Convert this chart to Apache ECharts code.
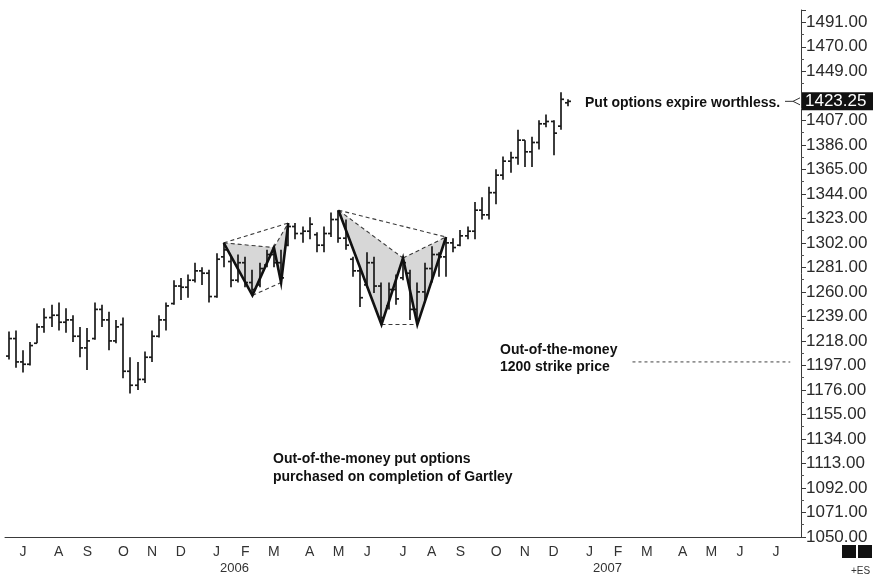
<!DOCTYPE html>
<html>
<head>
<meta charset="utf-8">
<script src="https://cdn.jsdelivr.net/npm/echarts@6/dist/echarts.min.js"></script>
<style>
  html, body { margin: 0; padding: 0; background: #ffffff; }
  #chart { width: 874px; height: 576px; }
</style>
</head>
<body>
<div id="chart"></div>
<script>
// ES (S&P 500 e-mini) weekly bars, each week labelled by its Friday.
const firstWeekFriday = '2005-06-17';
const weekSlots = 111; // axis runs on into mid-2007

const opens  = [1205,1220,1200,1198,1216,1230,1238,1240,1234,1236,1222,1212,1220,1245,1236,1218,1232,1192,1180,1185,
                1204,1222,1236,1250,1265,1264,1270,1278,1276,1256,1290,1286,1270,1285,1268,1266,1283,1292,1285,1300,
                1316,1310,1312,1309,1300,1310,1322,1306,1288,1278,1266,1285,1265,1248,1262,1272,1276,1245,1260,1280,
                1292,1290,1302,1300,1308,1312,1330,1326,1345,1360,1372,1375,1390,1380,1388,1404,1406,1402,1422];
const highs  = [1226,1227,1210,1217,1233,1246,1249,1251,1246,1240,1230,1229,1251,1249,1243,1236,1238,1204,1200,1209,
                1227,1240,1251,1270,1272,1275,1285,1281,1279,1293,1302,1290,1292,1290,1279,1285,1296,1298,1296,1319,
                1319,1316,1324,1311,1316,1328,1330,1322,1290,1281,1294,1290,1268,1268,1275,1289,1279,1268,1285,1299,
                1294,1307,1306,1313,1316,1337,1341,1350,1365,1376,1380,1399,1390,1393,1407,1412,1407,1431,1425];
const lows   = [1202,1195,1191,1197,1216,1225,1230,1227,1225,1217,1204,1193,1219,1230,1210,1216,1186,1173,1176,1182,
                1200,1221,1227,1249,1253,1255,1268,1266,1251,1255,1281,1264,1268,1264,1257,1264,1281,1281,1268,1299,
                1305,1302,1305,1294,1294,1307,1302,1296,1273,1247,1264,1259,1232,1245,1249,1270,1236,1232,1251,1268,
                1273,1273,1294,1299,1305,1305,1322,1322,1335,1356,1362,1369,1367,1367,1382,1401,1377,1399,1419];
const closes = [1220,1200,1198,1214,1230,1238,1240,1234,1236,1222,1212,1218,1245,1236,1218,1230,1192,1180,1185,1204,
                1222,1236,1248,1265,1264,1270,1278,1276,1256,1288,1296,1270,1285,1268,1262,1280,1292,1285,1272,1316,
                1310,1312,1318,1300,1310,1322,1306,1300,1278,1255,1285,1265,1238,1262,1254,1285,1245,1260,1280,1292,
                1290,1302,1298,1308,1312,1330,1326,1345,1360,1372,1375,1390,1380,1388,1404,1406,1396,1425,1423.25];

// Price scale
const priceMin = 1050;
const priceMax = 1501.5;
const priceStep = 21;
const lastPrice = 1423.25;
const strikePrice = 1200;
const strikeSpan = [87, 109];   // weeks covered by the strike line

// Gartley turning points (bar indices X, A, B, C, D): X/B/D on highs, A/C on lows
const gartleyFirst  = [30, 34, 37, 38, 39];
const gartleySecond = [46, 52, 55, 57, 61];

const monthLetters = 'JFMAMJJASOND';

// ---------------------------------------------------------------
function fmtDate(d) {
  return d.toISOString().slice(0, 10);
}
const weekDates = [];
{
  const start = new Date(firstWeekFriday + 'T00:00:00Z');
  for (let i = 0; i < weekSlots; i++) {
    weekDates.push(fmtDate(new Date(start.getTime() + i * 7 * 86400000)));
  }
}
function monthOf(i) { return new Date(weekDates[i] + 'T00:00:00Z').getUTCMonth(); }
function isMonthStart(i) { return i > 0 && monthOf(i) !== monthOf(i - 1); }

const barData = opens.map((o, i) => [i, o, highs[i], lows[i], closes[i]]);

function patternItem(p) {
  const kinds = [highs, lows, highs, lows, highs];
  const out = [];
  p.forEach((idx, k) => { out.push(idx, kinds[k][idx]); });
  return out;
}
const patternData = [patternItem(gartleyFirst), patternItem(gartleySecond)];

function patternPoints(api) {
  const pts = [];
  for (let k = 0; k < 5; k++) pts.push(api.coord([api.value(2 * k), api.value(2 * k + 1)]));
  return pts;
}

const ink = '#1a1a1a';
const axisFont = 'Liberation Sans, Arial, sans-serif';

const option = {
  animation: false,
  backgroundColor: '#ffffff',
  grid: { left: 5, right: 73, top: 10, bottom: 39 },
  xAxis: {
    type: 'category',
    data: weekDates,
    boundaryGap: true,
    axisLine: { lineStyle: { color: '#3a3a3a', width: 1 } },
    axisTick: { interval: (i) => isMonthStart(i), alignWithLabel: true, length: 4, lineStyle: { color: '#3a3a3a' } },
    axisLabel: {
      interval: (i) => isMonthStart(i),
      margin: 7,
      formatter: (v) => {
        const d = new Date(v + 'T00:00:00Z');
        const m = d.getUTCMonth();
        const letter = monthLetters[m];
        if (m === 0) return '{m|' + letter + '}\n{y|' + d.getUTCFullYear() + '}';
        return '{m|' + letter + '}';
      },
      rich: {
        m: { fontSize: 14, color: '#333', fontFamily: axisFont, lineHeight: 17 },
        y: { fontSize: 13, color: '#333', fontFamily: axisFont, lineHeight: 14, padding: [0, 0, 0, 36] }
      }
    },
    splitLine: { show: false }
  },
  yAxis: {
    type: 'value',
    position: 'right',
    min: priceMin,
    max: priceMax,
    interval: priceStep,
    axisLine: { show: true, lineStyle: { color: '#3a3a3a', width: 1 } },
    axisTick: { show: true, length: 5, lineStyle: { color: '#3a3a3a' } },
    minorTick: { show: true, splitNumber: 2, length: 3, lineStyle: { color: '#555' } },
    splitLine: { show: false },
    axisLabel: {
      showMaxLabel: false,
      margin: 5,
      fontSize: 17,
      color: '#2a2a2a',
      fontFamily: axisFont,
      formatter: (v) => (Math.abs(v - 1428) < 0.01 || v > 1491.5) ? '' : v.toFixed(2)
    }
  },
  series: [
    {
      // shaded XAB and BCD triangles
      type: 'custom',
      name: 'gartley-fill',
      z: 1,
      clip: false,
      encode: { x: [0, 2, 4, 6, 8], y: [1, 3, 5, 7, 9] },
      data: patternData,
      renderItem: (params, api) => {
        const p = patternPoints(api);
        const fill = { fill: '#d3d3d3', stroke: null, opacity: 0.9 };
        return {
          type: 'group',
          children: [
            { type: 'polygon', shape: { points: [p[0], p[1], p[2]] }, style: fill },
            { type: 'polygon', shape: { points: [p[2], p[3], p[4]] }, style: fill }
          ]
        };
      }
    },
    {
      // OHLC bars
      type: 'custom',
      name: 'ES',
      z: 2,
      encode: { x: 0, y: [1, 2, 3, 4] },
      data: barData,
      renderItem: (params, api) => {
        const i = api.value(0);
        const h = api.coord([i, api.value(2)]);
        const l = api.coord([i, api.value(3)]);
        const o = api.coord([i, api.value(1)]);
        const c = api.coord([i, api.value(4)]);
        const x = Math.round(h[0]);
        const t = 3;
        const st = { stroke: ink, lineWidth: 1.7 };
        return {
          type: 'group',
          children: [
            { type: 'line', shape: { x1: x, y1: h[1], x2: x, y2: l[1] }, style: st },
            { type: 'line', shape: { x1: x - t, y1: o[1], x2: x, y2: o[1] }, style: st },
            { type: 'line', shape: { x1: x, y1: c[1], x2: x + t, y2: c[1] }, style: st }
          ]
        };
      }
    },
    {
      // XABCD legs and the dashed retracement lines
      type: 'custom',
      name: 'gartley-lines',
      z: 3,
      clip: false,
      encode: { x: [0, 2, 4, 6, 8], y: [1, 3, 5, 7, 9] },
      data: patternData,
      renderItem: (params, api) => {
        const p = patternPoints(api);
        const dash = { stroke: '#3a3a3a', lineWidth: 1.1, lineDash: [4, 3], fill: null };
        const seg = (a, b) => ({ type: 'line', shape: { x1: a[0], y1: a[1], x2: b[0], y2: b[1] }, style: dash });
        return {
          type: 'group',
          children: [
            seg(p[0], p[2]), seg(p[1], p[3]), seg(p[2], p[4]), seg(p[0], p[4]),
            { type: 'polyline', shape: { points: p }, style: { stroke: '#111', lineWidth: 2.6, fill: null, lineJoin: 'miter' } }
          ]
        };
      }
    },
    {
      // strike price reference
      type: 'line',
      name: 'strike',
      z: 2,
      symbol: 'none',
      data: [[strikeSpan[0], strikePrice], [strikeSpan[1], strikePrice]],
      lineStyle: { color: '#444', width: 1, type: [3, 3] }
    },
    {
      // last price marker on the price axis
      type: 'custom',
      name: 'last',
      z: 4,
      clip: false,
      encode: { x: 0, y: 1 },
      data: [[opens.length - 1, lastPrice]],
      renderItem: (params, api) => {
        const y = api.coord([api.value(0), api.value(1)])[1];
        const right = params.coordSys.x + params.coordSys.width;
        return {
          type: 'group',
          children: [
            { type: 'line', shape: { x1: right - 16, y1: y, x2: right - 8, y2: y }, style: { stroke: '#333', lineWidth: 1 } },
            { type: 'polyline', shape: { points: [[right - 1, y - 3.5], [right - 8, y], [right - 1, y + 3.5]] }, style: { stroke: '#333', lineWidth: 1, fill: '#fff' } },
            { type: 'rect', shape: { x: right + 1, y: y - 9, width: 71, height: 18 }, style: { fill: '#111' } },
            { type: 'text', style: { x: right + 4, y: y, text: lastPrice.toFixed(2), fill: '#fff', fontSize: 17,
              fontFamily: axisFont, verticalAlign: 'middle', align: 'left' } }
          ]
        };
      }
    }
  ],
  graphic: [
    { type: 'text', left: 585, top: 96, style: { text: 'Put options expire worthless.', fill: '#111', font: 'bold 14px "Liberation Sans", Arial, sans-serif' } },
    { type: 'text', left: 500, top: 342, style: { text: 'Out-of-the-money\n1200 strike price', fill: '#111', lineHeight: 17, font: 'bold 14px "Liberation Sans", Arial, sans-serif' } },
    { type: 'text', left: 273, top: 450, style: { text: 'Out-of-the-money put options\npurchased on completion of Gartley', fill: '#111', lineHeight: 18, font: 'bold 14px "Liberation Sans", Arial, sans-serif' } },
    { type: 'rect', left: 842, top: 545, shape: { width: 14, height: 13 }, style: { fill: '#111' } },
    { type: 'rect', left: 858, top: 545, shape: { width: 14, height: 13 }, style: { fill: '#111' } },
    { type: 'text', left: 851, top: 566, style: { text: '+ES', fill: '#333', font: '10px "Liberation Sans", Arial, sans-serif' } }
  ]
};

const chart = echarts.init(document.getElementById('chart'), null, { renderer: 'canvas' });
chart.setOption(option);
</script>
</body>
</html>
